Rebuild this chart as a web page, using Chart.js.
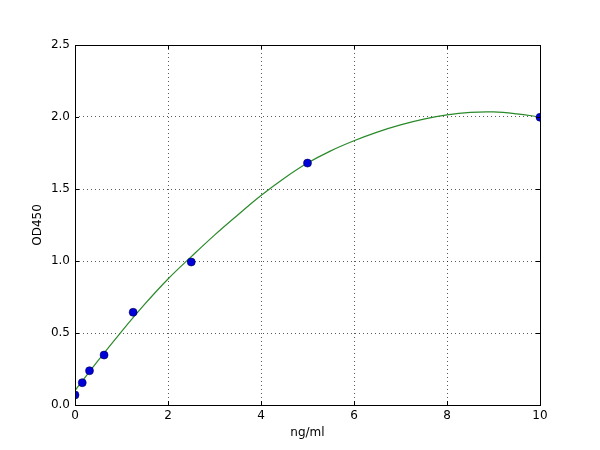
<!DOCTYPE html>
<html><head><meta charset="utf-8">
<script src="https://cdn.jsdelivr.net/npm/chart.js@4/dist/chart.umd.min.js"></script>
<style>html,body{margin:0;padding:0;background:#fff}#wrap{width:600px;height:450px}</style>
</head><body><div id="wrap"><canvas id="c" width="600" height="450"></canvas></div>
<script>
const concentrations = [0, 0.156, 0.312, 0.625, 1.25, 2.5, 5, 10];
const odValues = [0.07, 0.155, 0.238, 0.347, 0.644, 0.993, 1.68, 1.998];
const curveX = [0, 0.5, 1, 1.5, 2, 2.5, 3, 3.5, 4, 4.5, 5, 5.5, 6, 6.5, 7, 7.5, 8, 8.5, 9, 9.5, 10];
const curveY = [0.10, 0.31, 0.51, 0.70, 0.875, 1.03, 1.18, 1.32, 1.455, 1.575, 1.68, 1.765, 1.835, 1.895, 1.945, 1.985, 2.015, 2.032, 2.035, 2.022, 2.0];
const xTicks = [0, 2, 4, 6, 8, 10];
const yTicks = [0, 0.5, 1.0, 1.5, 2.0, 2.5];

const font = {family: 'DejaVu Sans', size: 12};

const framePlugin = {
  id: 'frame',
  afterDatasetsDraw(chart) {
    const {ctx, chartArea: a, scales: {x, y}} = chart;
    ctx.save();
    ctx.strokeStyle = '#000';
    ctx.lineWidth = 1;
    ctx.beginPath();
    xTicks.forEach(v => {
      const px = Math.round(x.getPixelForValue(v)) + 0.5;
      ctx.moveTo(px, a.bottom); ctx.lineTo(px, a.bottom - 4);
      ctx.moveTo(px, a.top); ctx.lineTo(px, a.top + 4);
    });
    yTicks.forEach(v => {
      const py = Math.round(y.getPixelForValue(v)) + 0.5;
      ctx.moveTo(a.left, py); ctx.lineTo(a.left + 4, py);
      ctx.moveTo(a.right, py); ctx.lineTo(a.right - 4, py);
    });
    ctx.stroke();
    ctx.strokeRect(Math.round(a.left) + 0.5, Math.round(a.top) + 0.5,
                   Math.round(a.right - a.left), Math.round(a.bottom - a.top));
    ctx.restore();
  }
};

new Chart(document.getElementById('c'), {
  type: 'scatter',
  data: {
    datasets: [
      {
        type: 'scatter',
        data: concentrations.map((c, i) => ({x: c, y: odValues[i]})),
        backgroundColor: '#0000d8',
        borderColor: '#000050',
        borderWidth: 0.6,
        pointRadius: 4,
        pointHoverRadius: 4,
        clip: 0,
        order: 0
      },
      {
        type: 'line',
        data: curveX.map((c, i) => ({x: c, y: curveY[i]})),
        borderColor: '#2a8a2a',
        borderWidth: 1.2,
        pointRadius: 0,
        fill: false,
        tension: 0.4,
        clip: 0,
        order: 1
      }
    ]
  },
  options: {
    responsive: false,
    animation: false,
    devicePixelRatio: 1,
    layout: {padding: {left: 0, top: 45, right: 60, bottom: 0}},
    plugins: {legend: {display: false}, tooltip: {enabled: false}},
    scales: {
      x: {
        type: 'linear', min: 0, max: 10,
        afterFit: s => { s.height = 45; },
        afterBuildTicks: s => { s.ticks = xTicks.map(v => ({value: v})); },
        ticks: {font, color: '#000', padding: 4, callback: v => String(v), maxRotation: 0},
        grid: {color: 'rgba(0,0,0,0.65)', lineWidth: 1, drawTicks: false},
        border: {display: false, dash: [1, 3]},
        title: {display: true, text: 'ng/ml', font, color: '#000', padding: {top: 0, bottom: 10}}
      },
      y: {
        type: 'linear', min: 0, max: 2.5,
        afterFit: s => { s.width = 75; },
        afterBuildTicks: s => { s.ticks = yTicks.map(v => ({value: v})); },
        ticks: {font, color: '#000', padding: 5, callback: v => v.toFixed(1)},
        grid: {color: 'rgba(0,0,0,0.65)', lineWidth: 1, drawTicks: false},
        border: {display: false, dash: [1, 3]},
        title: {display: true, text: 'OD450', font, color: '#000', padding: {top: 31, bottom: 0}}
      }
    }
  },
  plugins: [framePlugin]
});
</script></body></html>
